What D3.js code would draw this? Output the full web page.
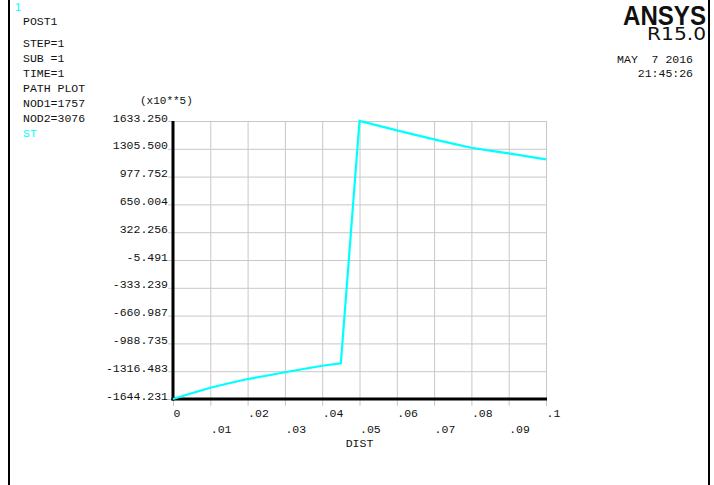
<!DOCTYPE html>
<html>
<head>
<meta charset="utf-8">
<script src="https://cdn.jsdelivr.net/npm/d3@7"></script>
<style>
  body { margin: 0; background: #fff; }
  svg text { font-family: "Liberation Mono", "Courier New", monospace; font-size: 11.5px; fill: #111; }
</style>
</head>
<body>
<div id="chart"></div>
<script>
// path plot data: ST along DIST (x10**5)
var distX = [0, .005, .01, .015, .02, .025, .03, .035, .04, .045,
             .05, .055, .06, .065, .07, .075, .08, .085, .09, .095, .1];
var stValues = [-1644.231, -1577, -1511, -1459, -1409, -1370, -1329, -1291, -1252, -1224,
                1633.25, 1578, 1523, 1470, 1417, 1366, 1318, 1284, 1252, 1216, 1181];

var yTicks = [1633.250, 1305.500, 977.752, 650.004, 322.256, -5.491,
              -333.239, -660.987, -988.735, -1316.483, -1644.231];
var xTicks = [0, .01, .02, .03, .04, .05, .06, .07, .08, .09, .1];
var xTickLabels = ["0", ".01", ".02", ".03", ".04", ".05", ".06", ".07", ".08", ".09", ".1"];

var infoLines = ["STEP=1", "SUB =1", "TIME=1", "PATH PLOT", "NOD1=1757", "NOD2=3076"];

var WIDTH = 714, HEIGHT = 485;
var PLOT_L = 173, PLOT_R = 546, PLOT_T = 121, PLOT_B = 399;

var svg = d3.select("#chart").append("svg")
    .attr("width", WIDTH)
    .attr("height", HEIGHT);

// frame lines
svg.append("line").attr("x1", 9).attr("x2", 9).attr("y1", 0).attr("y2", HEIGHT)
    .attr("stroke", "#000").attr("stroke-width", 2);
svg.append("line").attr("x1", 709).attr("x2", 709).attr("y1", 0).attr("y2", HEIGHT)
    .attr("stroke", "#000").attr("stroke-width", 2);

var x = d3.scaleLinear().domain([0, 0.1]).range([PLOT_L, PLOT_R]);
var y = d3.scaleLinear().domain([-1644.231, 1633.25]).range([PLOT_B, PLOT_T]);

// y axis with grid
var yAxis = svg.append("g")
    .attr("transform", "translate(" + PLOT_L + ",0)")
    .call(d3.axisLeft(y).tickValues(yTicks).tickSize(-(PLOT_R - PLOT_L)).tickSizeOuter(0)
        .tickFormat(function (d) { return d.toFixed(3); }));
yAxis.select(".domain").remove();
yAxis.selectAll(".tick line")
    .attr("x1", -5)
    .attr("stroke", "#c8c8c8").attr("stroke-width", 1);
yAxis.selectAll(".tick text")
    .attr("x", -5).attr("dy", 0)
    .attr("fill", "#111");

// x axis with grid
var xAxis = svg.append("g")
    .attr("transform", "translate(0," + PLOT_B + ")")
    .call(d3.axisBottom(x).tickValues(xTicks).tickSize(-(PLOT_B - PLOT_T)).tickSizeOuter(0)
        .tickFormat(function (d, i) { return xTickLabels[i]; }));
xAxis.select(".domain").remove();
xAxis.selectAll(".tick line")
    .attr("y1", 7)
    .attr("stroke", "#c8c8c8").attr("stroke-width", 1);
xAxis.selectAll(".tick text")
    .attr("text-anchor", "start")
    .attr("x", 0)
    .attr("y", function (d, i) { return i % 2 == 0 ? 18 : 34; })
    .attr("dy", 0)
    .attr("fill", "#111");
svg.selectAll("g").attr("font-family", null).attr("font-size", null);

// thick axis lines
svg.append("line").attr("x1", PLOT_L).attr("x2", PLOT_L).attr("y1", PLOT_T).attr("y2", PLOT_B + 1.5)
    .attr("stroke", "#000").attr("stroke-width", 3);
svg.append("line").attr("x1", PLOT_L - 1.5).attr("x2", PLOT_R + 1).attr("y1", PLOT_B).attr("y2", PLOT_B)
    .attr("stroke", "#000").attr("stroke-width", 3);

// curve
var line = d3.line()
    .x(function (d, i) { return x(distX[i]); })
    .y(function (d) { return y(d); });
svg.append("path")
    .datum(stValues)
    .attr("d", line)
    .attr("fill", "none")
    .attr("stroke", "#00ffff")
    .attr("stroke-width", 2.2);

// labels
svg.append("text").attr("x", 140).attr("y", 104).style("font-size", "11px").text("(x10**5)");
svg.append("text").attr("x", (PLOT_L + PLOT_R) / 2).attr("y", 447)
    .attr("text-anchor", "middle").text("DIST");

svg.append("text").attr("x", 15).attr("y", 10.5)
    .style("font-family", "'Liberation Sans', Arial, sans-serif").style("font-size", "11px")
    .style("fill", "#00ffff").text("1");
svg.append("text").attr("x", 23).attr("y", 25).text("POST1");
svg.selectAll("text.info")
    .data(infoLines).enter().append("text")
    .attr("class", "info")
    .attr("x", 23)
    .attr("y", function (d, i) { return 47 + i * 15; })
    .text(function (d) { return d; });
svg.append("text").attr("x", 23).attr("y", 137).style("fill", "#00ffff").text("ST");

svg.append("text").attr("x", 706).attr("y", 25)
    .attr("text-anchor", "end")
    .attr("textLength", 83).attr("lengthAdjust", "spacingAndGlyphs")
    .style("font-family", "'Liberation Sans', Arial, sans-serif")
    .style("font-size", "27px").style("font-weight", "bold")
    .text("ANSYS");
svg.append("text").attr("x", 706).attr("y", 40)
    .attr("text-anchor", "end")
    .attr("textLength", 59).attr("lengthAdjust", "spacingAndGlyphs")
    .style("font-family", "'DejaVu Sans', sans-serif")
    .style("font-size", "17.5px")
    .text("R15.0");
svg.append("text").attr("x", 693).attr("y", 63).attr("text-anchor", "end")
    .style("white-space", "pre").attr("xml:space", "preserve").text("MAY  7 2016");
svg.append("text").attr("x", 693).attr("y", 77).attr("text-anchor", "end").text("21:45:26");
</script>
</body>
</html>
